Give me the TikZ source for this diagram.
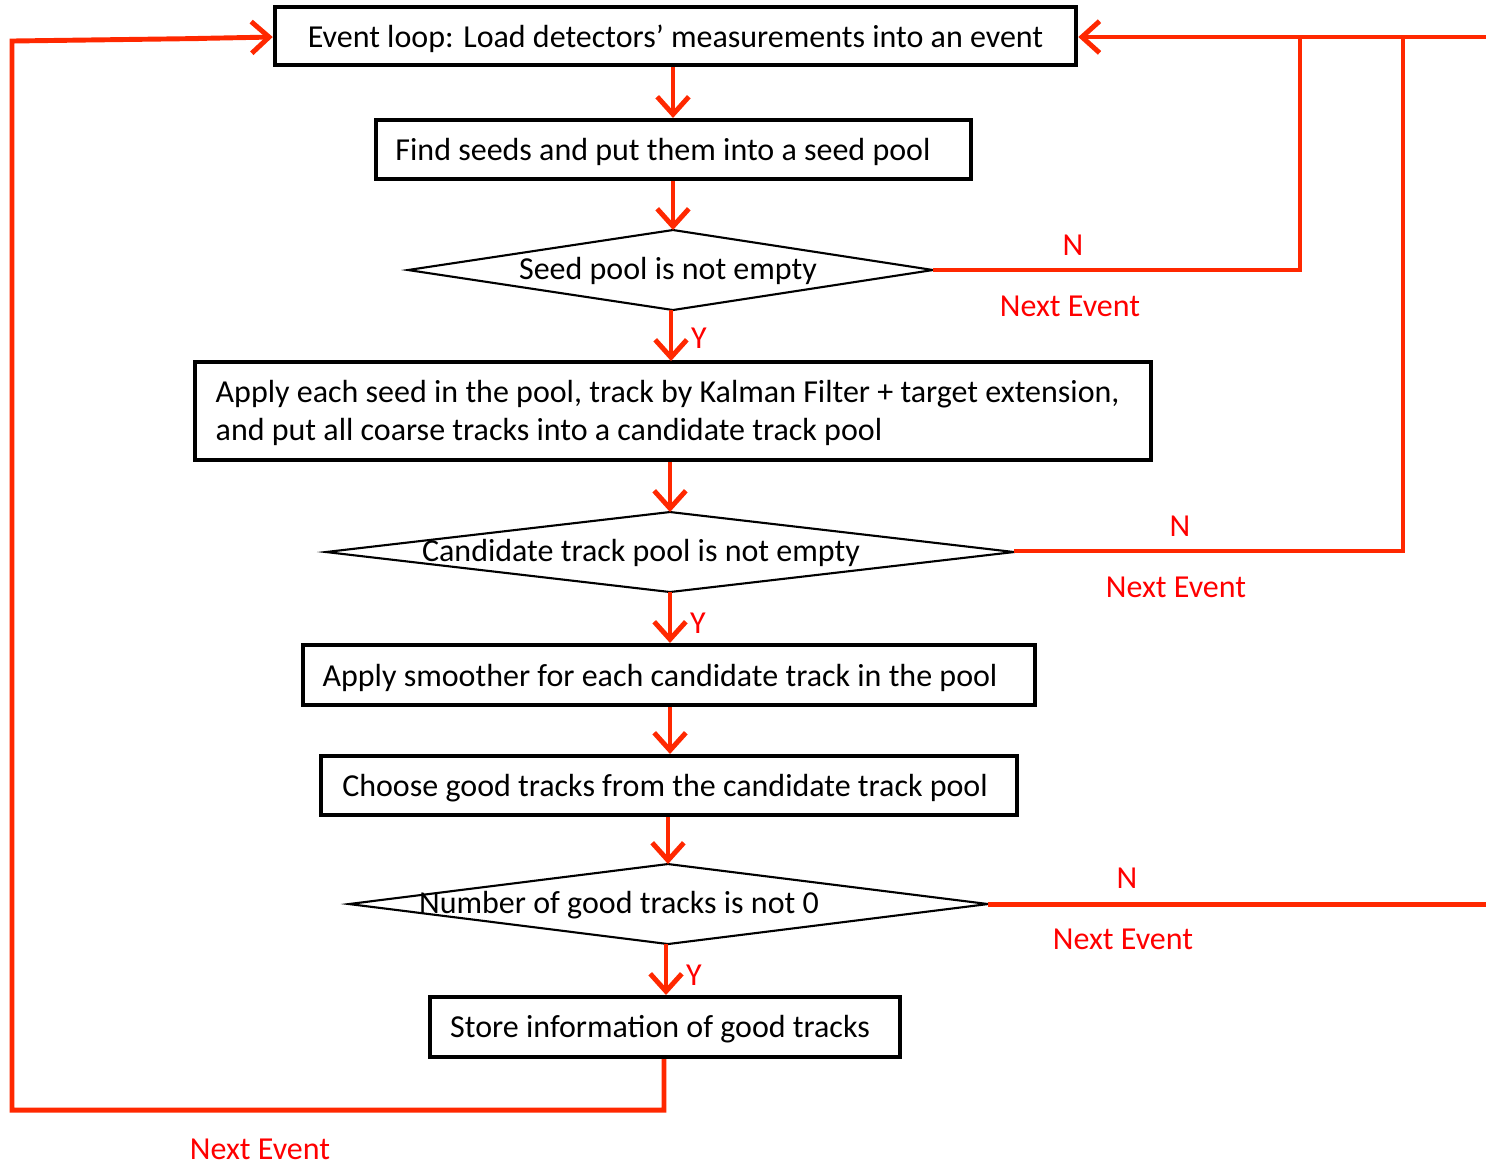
\documentclass[tikz,border=0pt]{standalone}
\usepackage{fontspec}
\setmainfont{Carlito}
\usetikzlibrary{arrows.meta}
\definecolor{lnred}{RGB}{255,40,0}
\definecolor{txred}{RGB}{255,0,0}
\begin{document}
\begin{tikzpicture}[x=0.01cm,y=-0.01cm,
  every node/.style={font=\fontsize{9.1pt}{11pt}\selectfont, inner sep=0pt},
  procbox/.style={draw=black, line width=1.15pt, rectangle},
  decl/.style={draw=black, line width=0.6pt, fill=white},
  flow/.style={draw=lnred, line width=1.4pt, -{Straight Barb[length=5pt,width=9pt,line width=1.4pt]}},
  redline/.style={draw=lnred, line width=1.4pt, line join=miter},
  lab/.style={text=txred}]
\useasboundingbox (0,0) rectangle (1486,1162);

% boxes
\node[procbox, minimum width=8.01cm, minimum height=0.58cm] (b1) at (675.5,36) {};
\node (t1) at (675.5,39) {Event loop: Load detectors’ measurements into an event};
\node[procbox, minimum width=5.95cm, minimum height=0.59cm] (b2) at (673.5,149.5) {};
\node (t2) at (663,152) {Find seeds and put them into a seed pool};
\node[procbox, minimum width=9.56cm, minimum height=0.98cm] (b3) at (673,411) {};
\node[anchor=west, align=left] (t3) at (215,413) {Apply each seed in the pool, track by Kalman Filter + target extension,\\ and put all coarse tracks into a candidate track pool};
\node[procbox, minimum width=7.32cm, minimum height=0.60cm] (b4) at (669,675) {};
\node (t4) at (660,678) {Apply smoother for each candidate track in the pool};
\node[procbox, minimum width=6.96cm, minimum height=0.59cm] (b5) at (669,785.5) {};
\node (t5) at (665,788) {Choose good tracks from the candidate track pool};
\node[procbox, minimum width=4.70cm, minimum height=0.60cm] (b6) at (665,1027) {};
\node (t6) at (660,1029) {Store information of good tracks};

% diamonds
\coordinate (d1l) at (408,270); \coordinate (d1t) at (673,230);
\coordinate (d1r) at (933,270); \coordinate (d1b) at (673,310);
\draw[decl] (d1l) -- (d1t) -- (d1r) -- (d1b) -- cycle;
\node (d1) at (668,271) {Seed pool is not empty};

\coordinate (d2l) at (326,552); \coordinate (d2t) at (670,512);
\coordinate (d2r) at (1014,552); \coordinate (d2b) at (670,592);
\draw[decl] (d2l) -- (d2t) -- (d2r) -- (d2b) -- cycle;
\node (d2) at (641,553) {Candidate track pool is not empty};

\coordinate (d3l) at (349,904); \coordinate (d3t) at (668,864);
\coordinate (d3r) at (988,904); \coordinate (d3b) at (668,944);
\draw[decl] (d3l) -- (d3t) -- (d3r) -- (d3b) -- cycle;
\node (d3) at (619,905) {Number of good tracks is not 0};

% downward flow
\draw[flow] (b1.south -| 673,0) -- (d1t |- b2.north);
\draw[flow] (b2.south -| 673,0) -- (d1t);
\draw[flow] (d1b -| 671,0) -- (671,361);
\node[lab] (y1) at (699,338) {Y};
\draw[flow] (b3.south -| 670,0) -- (d2t);
\draw[flow] (d2b) -- (b4.north -| 670,0);
\node[lab] (y2) at (698,623) {Y};
\draw[flow] (b4.south -| 670,0) -- (b5.north -| 670,0);
\draw[flow] (b5.south -| 668,0) -- (d3t);
\draw[flow] (d3b -| 666,0) -- (b6.north -| 666,0);
\node[lab] (y3) at (694,975) {Y};

% loop back on the left
\coordinate (c1) at (664,1110);
\coordinate (c2) at (12,1110);
\coordinate (c3) at (12,41);
\draw[redline] (b6.south -| 664,0) -- (c1) -- (c2) -- (c3) -- (200,38.5);
\draw[flow] (195,38.5) -- (b1.west |- 0,37);
\node[lab] (ne0) at (260,1149) {Next Event};

% right side
\coordinate (e1) at (1300,270);
\coordinate (e1t) at (1300,37);
\coordinate (e2) at (1403,551);
\coordinate (e2t) at (1403,37);
\coordinate (edge) at (1486,37);
\coordinate (edge3) at (1486,904);
\draw[redline] (d1r) -- (e1) -- (e1t);
\draw[redline] (d2r |- 0,551) -- (e2) -- (e2t);
\draw[flow] (edge) -- (b1.east |- 0,37);
\draw[redline] (d3r) -- (edge3);

\node[lab] (n1) at (1073,245) {N};
\node[lab] (ne1) at (1070,306) {Next Event};
\node[lab] (n2) at (1180,526) {N};
\node[lab] (ne2) at (1176,587) {Next Event};
\node[lab] (n3) at (1127,878) {N};
\node[lab] (ne3) at (1123,939) {Next Event};
\end{tikzpicture}
\end{document}
